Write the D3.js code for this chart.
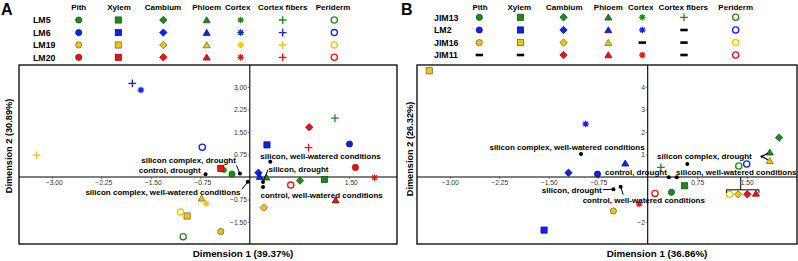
<!DOCTYPE html>
<html>
<head>
<meta charset="utf-8">
<script src="https://cdn.jsdelivr.net/npm/d3@7/dist/d3.min.js"></script>
<style>
  body { margin: 0; background: #fff; }
  svg { display: block; font-family: "Liberation Sans", Arial, sans-serif; }
</style>
</head>
<body>
<svg id="chart" width="798" height="261"></svg>
<script>
// legend columns
const tissues = ["Pith", "Xylem", "Cambium", "Phloem", "Cortex", "Cortex fibers", "Periderm"];

// ---- Panel A ----
const rowsA = ["LM5", "LM6", "LM19", "LM20"];
// one row per antibody, one value per tissue
const dim1A = [
  [-0.27, 1.13, 0.76, 0.25, -0.39, 1.29, -1.01],
  [1.51, 0.26, 0.13, 0.15, -1.65, -1.78, -0.72],
  [-0.44, -0.95, 0.21, -0.73, -0.66, -3.23, -1.05],
  [1.60, -0.44, 0.90, 1.30, 1.89, 0.89, 0.62]
];
const dim2A = [
  [0.10, -0.08, -0.12, -0.01, 0.23, 1.96, -1.99],
  [1.10, 1.07, 0.14, 0.01, 2.90, 3.12, 0.99],
  [-1.82, -1.30, -1.02, -0.71, -0.88, 0.73, -1.17],
  [0.32, 0.29, 1.66, -0.77, -0.02, 0.98, -0.27]
];
const presentA = [
  [1, 1, 1, 1, 1, 1, 1],
  [1, 1, 1, 1, 1, 1, 1],
  [1, 1, 1, 1, 1, 1, 1],
  [1, 1, 1, 1, 1, 1, 1]
];

// treatment centroids
const treatments = [
  "silicon complex, drought",
  "control, drought",
  "silicon complex, well-watered conditions",
  "silicon, well-watered conditions",
  "silicon, drought",
  "control, well-watered conditions"
];
const treatDim1A = [-0.15, -0.67, -0.03, 0.31, 0.20, 0.20];
const treatDim2A = [0.12, 0.09, -0.16, 0.51, -0.17, -0.33];

const xTicksA = [-3.00, -2.25, -1.50, -0.75, 1.50];
const yTicksA = [3.00, 2.25, 1.50, 0.75, -0.75, -1.50];
const xTitleA = "Dimension 1 (39.37%)";
const yTitleA = "Dimension 2 (30.89%)";

// ---- Panel B ----
const rowsB = ["JIM13", "LM2", "JIM16", "JIM11"];
const dim1B = [
  [0.36, 0.56, 1.99, 1.85, null, 0.20, 1.38],
  [-0.76, -1.57, -1.20, -0.34, -0.94, null, 1.50],
  [-0.52, -3.31, 1.37, 1.85, null, null, 1.24],
  [null, null, 1.51, 1.64, -0.13, null, 0.11]
];
const dim2B = [
  [-0.68, -0.39, 1.75, 1.10, null, 0.43, 0.49],
  [0.13, -2.36, 0.19, 0.61, 2.36, null, 0.58],
  [-1.51, 4.72, -0.77, 0.72, null, null, -0.77],
  [null, null, -0.77, -0.73, -1.20, null, -0.73]
];
const presentB = [
  [1, 1, 1, 1, 1, 1, 1],
  [1, 1, 1, 1, 1, 0, 1],
  [1, 1, 1, 1, 0, 0, 1],
  [0, 0, 1, 1, 1, 0, 1]
];
const treatDim1B = [0.60, 0.32, -1.01, 0.44, -0.52, -0.41];
const treatDim2B = [0.58, -0.01, 1.02, -0.01, -0.55, -0.43];

const xTicksB = [-3.00, -2.25, -1.50, -0.75, 0.75, 1.50];
const yTicksB = [4, 3, 2, 1, -2];
const xTitleB = "Dimension 1 (36.86%)";
const yTitleB = "Dimension 2 (26.32%)";

// ---- styles ----
const fills = ["#1e8a1e", "#1020ee", "#f5c400", "#f21010"];
const strokes = ["#0c4a0c", "#08106e", "#5a5a5a", "#8a0000"];
const S = 3.1;

const svg = d3.select("#chart");

function marker(g, t, x, y, ci) {
  const f = fills[ci], st = strokes[ci];
  if (t === 0) {
    g.append("circle").attr("cx", x).attr("cy", y).attr("r", S)
      .attr("fill", f).attr("stroke", st).attr("stroke-width", 0.7);
  } else if (t === 1) {
    g.append("rect").attr("x", x - S).attr("y", y - S).attr("width", 2 * S).attr("height", 2 * S)
      .attr("fill", f).attr("stroke", st).attr("stroke-width", 0.7);
  } else if (t === 2) {
    const d = S * 1.2;
    g.append("path").attr("d", `M${x},${y - d}L${x + d},${y}L${x},${y + d}L${x - d},${y}Z`)
      .attr("fill", f).attr("stroke", st).attr("stroke-width", 0.7);
  } else if (t === 3) {
    g.append("path").attr("d", `M${x},${y - S * 1.05}L${x + S * 1.15},${y + S * 0.9}L${x - S * 1.15},${y + S * 0.9}Z`)
      .attr("fill", f).attr("stroke", st).attr("stroke-width", 0.7);
  } else if (t === 4) {
    const r = S * 1.05;
    [0, 45, 90, 135].forEach(a => {
      const dx = r * Math.cos(a * Math.PI / 180), dy = r * Math.sin(a * Math.PI / 180);
      g.append("line").attr("x1", x - dx).attr("y1", y - dy).attr("x2", x + dx).attr("y2", y + dy)
        .attr("stroke", f).attr("stroke-width", 1.3);
    });
    g.append("circle").attr("cx", x).attr("cy", y).attr("r", S * 0.6).attr("fill", f);
  } else if (t === 5) {
    const r = S * 1.25;
    g.append("path").attr("d", `M${x - r},${y}H${x + r}M${x},${y - r}V${y + r}`)
      .attr("stroke", f).attr("stroke-width", 1.3).attr("fill", "none");
  } else {
    g.append("circle").attr("cx", x).attr("cy", y).attr("r", S)
      .attr("fill", "none").attr("stroke", f).attr("stroke-width", 1.3);
  }
}

function drawPanel(p) {
  const g = svg.append("g");

  // panel letter
  g.append("text").attr("x", p.letterX).attr("y", 14.5)
    .attr("font-size", 16).attr("font-weight", "bold").text(p.letter);

  // legend
  tissues.forEach((t, j) => {
    g.append("text").attr("x", p.headX[j]).attr("y", 10.2)
      .attr("text-anchor", "middle").attr("font-size", 8).attr("font-weight", "bold").text(t);
  });
  p.rows.forEach((r, i) => {
    const yy = p.rowY[i];
    g.append("text").attr("x", p.rowLabelX).attr("y", yy + 3.2)
      .attr("font-size", 8.8).attr("font-weight", "bold").text(r);
    tissues.forEach((t, j) => {
      if (p.present[i][j]) marker(g, j, p.symX[j], yy, i);
      else g.append("rect").attr("x", p.symX[j] - 3.7).attr("y", yy - 1.3)
        .attr("width", 7.4).attr("height", 2.6).attr("fill", "#000");
    });
  });

  const x = d3.scaleLinear().domain(p.xDomain).range([p.left, p.right]);
  const y = d3.scaleLinear().domain(p.yDomain).range([244, 65]);

  // frame + zero lines
  g.append("rect").attr("x", p.left).attr("y", 65).attr("width", p.right - p.left).attr("height", 179)
    .attr("fill", "none").attr("stroke", "#000").attr("stroke-width", 1.3);
  g.append("line").attr("x1", p.left).attr("x2", p.right).attr("y1", y(0)).attr("y2", y(0))
    .attr("stroke", "#000").attr("stroke-width", 1.1);
  g.append("line").attr("x1", x(0)).attr("x2", x(0)).attr("y1", 65).attr("y2", 244)
    .attr("stroke", "#000").attr("stroke-width", 1.1);

  // ticks
  const xa = g.append("g").attr("transform", `translate(0,${y(0)})`)
    .call(d3.axisBottom(x).tickValues(p.xTicks).tickFormat(d3.format(".2f")).tickSize(2).tickPadding(1.5));
  const ya = g.append("g").attr("transform", `translate(${x(0)},0)`)
    .call(d3.axisLeft(y).tickValues(p.yTicks).tickFormat(p.yFormat).tickSize(2).tickPadding(0.8));
  [xa, ya].forEach(a => {
    a.select(".domain").remove();
    a.selectAll("text").attr("font-size", 6.7).attr("fill", "#333").attr("font-family", "Liberation Sans, Arial, sans-serif");
    a.selectAll("line").attr("stroke", "#333").attr("stroke-width", 0.6);
  });
  xa.selectAll("text").attr("dx", p.tickDx);
  ya.selectAll("text").attr("dy", "0.35em");

  // tissue scores
  const pts = g.append("g");
  p.rows.forEach((r, i) => {
    tissues.forEach((t, j) => {
      const v1 = p.d1[i][j], v2 = p.d2[i][j];
      if (v1 === null) return;
      marker(pts, j, x(v1), y(v2), i);
    });
  });

  // extra connectors
  if (p.extra) p.extra(g, x, y);

  // treatment centroids
  const lab = g.append("g").attr("font-size", 8).attr("font-weight", "bold");
  treatments.forEach((t, k) => {
    const cx = x(p.t1[k]), cy = y(p.t2[k]);
    const L = p.labels[k];
    if (L.lead) {
      lab.append("line").attr("x1", cx + L.lead[0]).attr("y1", cy + L.lead[1])
        .attr("x2", cx).attr("y2", cy).attr("stroke", "#000").attr("stroke-width", 1);
    }
    lab.append("circle").attr("cx", cx).attr("cy", cy).attr("r", 2).attr("fill", "#000");
    lab.append("text").attr("x", cx + L.dx).attr("y", cy + L.dy)
      .attr("text-anchor", L.anchor).text(t);
  });

  // axis titles
  g.append("text").attr("x", p.xTitleX).attr("y", 256.8).attr("text-anchor", "middle")
    .attr("font-size", 9.8).attr("font-weight", "bold").text(p.xTitle);
  g.append("text").attr("transform", `translate(${p.yTitleX},${p.yTitleY}) rotate(-90)`)
    .attr("dy", "0.35em").attr("text-anchor", "middle")
    .attr("font-size", 9.2).attr("font-weight", "bold").text(p.yTitle);
}

drawPanel({
  letter: "A", letterX: 1,
  rows: rowsA, present: presentA,
  headX: [78.7, 119, 163, 206.7, 237.7, 282.7, 333],
  symX: [78.7, 118.3, 163.3, 206.7, 240.7, 282.7, 334.3],
  rowY: [20, 32.6, 45, 57.3], rowLabelX: 33,
  left: 19, right: 397,
  xDomain: [-3.497, 2.230], yDomain: [-2.233, 3.733],
  xTicks: xTicksA, yTicks: yTicksA, yFormat: d3.format(".2f"), tickDx: 2,
  d1: dim1A, d2: dim2A, t1: treatDim1A, t2: treatDim2A,
  labels: [
    { anchor: "end", dx: -4, dy: -10.3, lead: [-3.5, -8] },
    { anchor: "end", dx: -5, dy: -1.8 },
    { anchor: "end", dx: -7.3, dy: 13, lead: [-6, 7.5] },
    { anchor: "start", dx: -10, dy: -2.8 },
    { anchor: "start", dx: 5.5, dy: -9.7, lead: [5, -12.5] },
    { anchor: "start", dx: -2.5, dy: 11 }
  ],
  xTitle: xTitleA, xTitleX: 243, yTitle: yTitleA, yTitleX: 9, yTitleY: 146
});

drawPanel({
  letter: "B", letterX: 401,
  rows: rowsB, present: presentB,
  headX: [480, 519.3, 564.3, 608.3, 640.7, 683.3, 735.7],
  symX: [479.3, 520.5, 563.5, 608.3, 642.3, 684, 735.7],
  rowY: [17.3, 30, 42.6, 55], rowLabelX: 434,
  left: 417, right: 797,
  xDomain: [-3.495, 2.262], yDomain: [-2.978, 4.978],
  xTicks: xTicksB, yTicks: yTicksB, yFormat: d3.format("d"), tickDx: 0,
  d1: dim1B, d2: dim2B, t1: treatDim1B, t2: treatDim2B,
  labels: [
    { anchor: "start", dx: -30.2, dy: -5 },
    { anchor: "end", dx: -2, dy: -1.8 },
    { anchor: "middle", dx: -14, dy: -3.7 },
    { anchor: "start", dx: -0.7, dy: -1.8 },
    { anchor: "end", dx: -11.6, dy: 3.7, lead: [-10.5, 0.2] },
    { anchor: "start", dx: -38, dy: 16.8, lead: [2.6, 8] }
  ],
  xTitle: xTitleB, xTitleX: 657, yTitle: yTitleB, yTitleX: 410, yTitleY: 149,
  extra: (g, x, y) => {
    // bracket over the four overlapping points (JIM16 periderm, cambium; JIM11 cambium, phloem)
    const xs = [x(dim1B[2][6]), x(dim1B[3][3])];
    const by = y(dim2B[2][6]) - 4.5;
    const mid = (xs[0] + xs[1]) / 2 - 2;
    g.append("path")
      .attr("d", `M${xs[0] - 3},${by + 3}V${by}H${xs[1] + 3}V${by + 3}M${mid},${by}V${y(0)}`)
      .attr("fill", "none").attr("stroke", "#000").attr("stroke-width", 1);
    // "<" connector for the JIM13 / JIM16 phloem pair
    const tx = x(dim1B[0][3]);
    const ty1 = y(dim2B[0][3]), ty2 = y(dim2B[2][3]);
    const vx = tx - 8, vy = (ty1 + ty2) / 2;
    g.append("path").attr("d", `M${tx - 2},${ty1 + 1}L${vx},${vy}L${tx - 2},${ty2 - 1}`)
      .attr("fill", "none").attr("stroke", "#000").attr("stroke-width", 1.1);
    g.append("circle").attr("cx", vx).attr("cy", vy).attr("r", 1.3).attr("fill", "#000");
  }
});
</script>
</body>
</html>
